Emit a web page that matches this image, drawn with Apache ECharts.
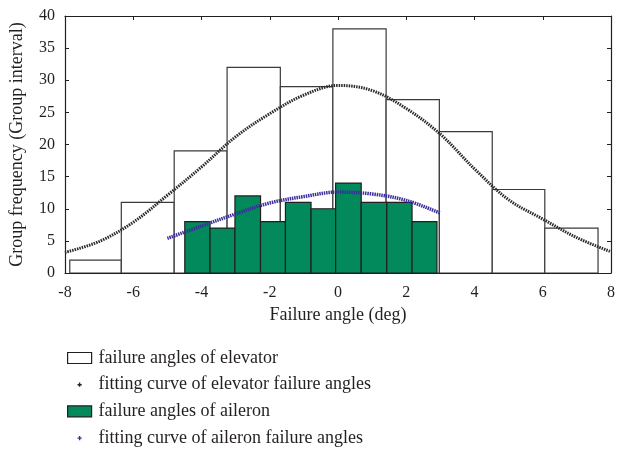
<!DOCTYPE html>
<html>
<head>
<meta charset="utf-8">
<script src="https://cdn.jsdelivr.net/npm/echarts@6/dist/echarts.min.js"></script>
<style>
html,body{margin:0;padding:0;background:#fff;}
#chart{width:618px;height:450px;}
</style>
</head>
<body>
<div id="chart"></div>
<script>
// Elevator histogram: bin edges and counts
var elevatorEdges = [-7.86, -6.35, -4.80, -3.25, -1.69, -0.15, 1.41, 2.97, 4.52, 6.06, 7.62];
var elevatorCounts = [2, 11, 19, 32, 29, 38, 27, 22, 13, 7];
// Aileron histogram: bin edges and counts
var aileronEdges = [-4.49, -3.75, -3.02, -2.27, -1.54, -0.79, -0.07, 0.68, 1.43, 2.17, 2.90];
var aileronCounts = [8, 7, 12, 8, 11, 10, 14, 11, 11, 8];
// Fitting curves
var elevatorFitX = [-8, -7, -6, -5, -4, -3, -2, -1, 0, 1, 2, 3, 4, 5, 6, 7, 8];
var elevatorFitY = [3.2, 4.9, 7.9, 12.1, 16.5, 21.2, 24.8, 27.7, 29.2, 28.4, 25.6, 21.6, 16.2, 11.4, 8.4, 5.5, 3.3];
var aileronFitX = [-5, -4, -3, -2, -1, 0, 1, 2, 3];
var aileronFitY = [5.4, 7.3, 9.2, 10.9, 11.9, 12.6, 12.3, 11.3, 9.3];

var names = [
  'failure angles of elevator',
  'fitting curve of elevator failure angles',
  'failure angles of aileron',
  'fitting curve of aileron failure angles'
];

function binsData(edges, counts) {
  var out = [];
  for (var i = 0; i < counts.length; i++) out.push([edges[i], edges[i + 1], counts[i]]);
  return out;
}
function pairs(xs, ys) {
  var out = [];
  for (var i = 0; i < xs.length; i++) out.push([xs[i], ys[i]]);
  return out;
}
function renderBin(params, api) {
  var p0 = api.coord([api.value(0), api.value(2)]);
  var p1 = api.coord([api.value(1), 0]);
  return {
    type: 'rect',
    shape: {x: p0[0], y: p0[1], width: p1[0] - p0[0], height: p1[1] - p0[1]},
    style: api.style()
  };
}

var FONT = '"Liberation Serif", "Times New Roman", serif';
var INK = '#231f20';
var plusIcon = 'path://M0,0M24,11M11.3,3.4H12.7V4.8H14.1V6.2H12.7V7.6H11.3V6.2H9.9V4.8H11.3Z';

var chart = echarts.init(document.getElementById('chart'), null, {renderer: 'canvas'});
chart.setOption({
  animation: false,
  backgroundColor: '#fff',
  textStyle: {fontFamily: FONT, color: INK},
  grid: {left: 62, right: 3, top: 16, bottom: 177},
  legend: {
    orient: 'vertical',
    left: 62,
    top: 344,
    height: 104,
    itemWidth: 24,
    itemHeight: 11,
    itemGap: 8.7,
    selectedMode: false,
    textStyle: {fontFamily: FONT, fontSize: 18, color: INK, padding: [0, 0, 0, 2]},
    data: [
      {name: names[0], icon: 'rect', itemStyle: {color: '#fff', borderColor: INK, borderWidth: 1.2}},
      {name: names[1], icon: plusIcon, itemStyle: {color: '#222', borderWidth: 0}},
      {name: names[2], icon: 'rect', itemStyle: {color: '#02895c', borderColor: INK, borderWidth: 1.2}},
      {name: names[3], icon: plusIcon, itemStyle: {color: '#3b2f9c', borderWidth: 0}}
    ]
  },
  xAxis: [{
    type: 'value', min: -8, max: 8, interval: 2, position: 'bottom',
    name: 'Failure angle (deg)', nameLocation: 'middle', nameGap: 33,
    nameTextStyle: {fontFamily: FONT, fontSize: 18, color: INK},
    axisLine: {show: true, onZero: false, lineStyle: {color: INK, width: 1.2}},
    axisTick: {show: true, inside: true, length: 4, lineStyle: {color: INK}},
    axisLabel: {fontFamily: FONT, fontSize: 16, color: INK, margin: 12},
    splitLine: {show: false}
  }, {
    type: 'value', min: -8, max: 8, interval: 2, position: 'top',
    axisLine: {show: true, onZero: false, lineStyle: {color: INK, width: 1.2}},
    axisTick: {show: true, inside: true, length: 4, lineStyle: {color: INK}},
    axisLabel: {show: false},
    splitLine: {show: false}
  }],
  yAxis: [{
    type: 'value', min: 0, max: 40, interval: 5, position: 'left',
    name: 'Group frequency (Group interval)', nameLocation: 'middle', nameGap: 39,
    nameTextStyle: {fontFamily: FONT, fontSize: 18, color: INK},
    axisLine: {show: true, onZero: false, lineStyle: {color: INK, width: 1.2}},
    axisTick: {show: true, inside: true, length: 4, lineStyle: {color: INK}},
    axisLabel: {fontFamily: FONT, fontSize: 16, color: INK, margin: 10},
    splitLine: {show: false}
  }, {
    type: 'value', min: 0, max: 40, interval: 5, position: 'right',
    axisLine: {show: true, onZero: false, lineStyle: {color: INK, width: 1.2}},
    axisTick: {show: true, inside: true, length: 4, lineStyle: {color: INK}},
    axisLabel: {show: false},
    splitLine: {show: false}
  }],
  series: [{
    name: names[0], type: 'custom', renderItem: renderBin, clip: true,
    encode: {x: [0, 1], y: 2},
    itemStyle: {color: '#fff', borderColor: '#3a3a3a', borderWidth: 1.2},
    data: binsData(elevatorEdges, elevatorCounts), z: 2
  }, {
    name: names[2], type: 'custom', renderItem: renderBin, clip: true,
    encode: {x: [0, 1], y: 2},
    itemStyle: {color: '#02895c', borderColor: INK, borderWidth: 1.2},
    data: binsData(aileronEdges, aileronCounts), z: 3
  }, {
    name: names[1], type: 'line', smooth: 0.35, showSymbol: false, symbol: 'none',
    itemStyle: {color: '#222'},
    lineStyle: {color: '#2a2a2a', width: 3, type: [1.5, 1]},
    data: pairs(elevatorFitX, elevatorFitY), z: 4
  }, {
    name: names[3], type: 'line', smooth: 0.35, showSymbol: false, symbol: 'none',
    itemStyle: {color: '#3b2f9c'},
    lineStyle: {color: '#3b2f9c', width: 3.5, type: [1.5, 0.8]},
    data: pairs(aileronFitX, aileronFitY), z: 5
  }]
});
</script>
</body>
</html>
